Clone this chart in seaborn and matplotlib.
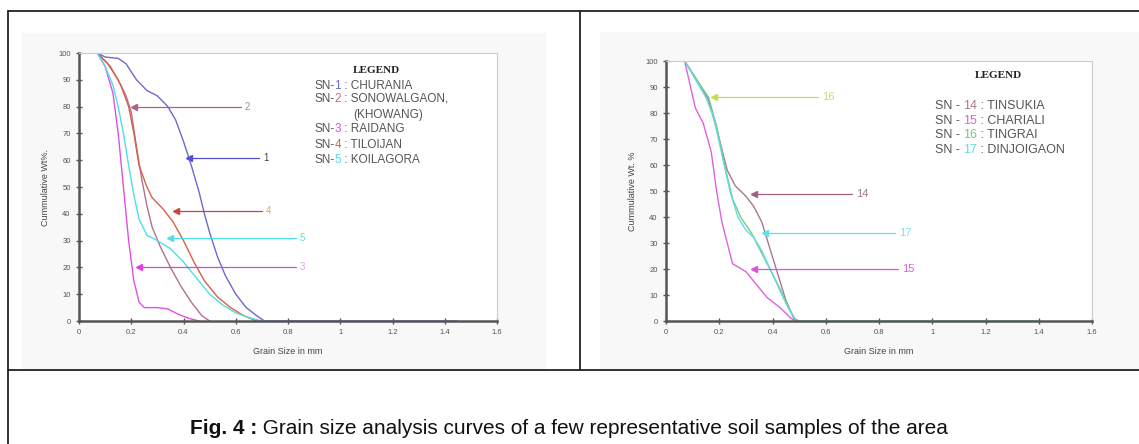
import matplotlib
matplotlib.use("Agg")
import matplotlib.pyplot as plt
from matplotlib.lines import Line2D
from matplotlib.patches import Rectangle
import seaborn as sns
import pandas as pd

sns.set_theme(style="white")
plt.rcParams['font.family'] = ['Liberation Sans', 'DejaVu Sans']

# ---- left panel: SN-1 .. SN-5 (grain size mm, cumulative wt %)
sn1_x = [0.07, 0.10, 0.15, 0.18, 0.22, 0.26, 0.30, 0.34, 0.37, 0.40, 0.43, 0.46, 0.48, 0.50, 0.53, 0.56, 0.60, 0.64, 0.68, 0.71, 1.45]
sn1_y = [100, 98.5, 98, 96, 90, 86, 84, 80, 75, 67, 58, 48, 40, 33, 24, 17, 10, 5, 2, 0, 0]
sn2_x = [0.07, 0.11, 0.15, 0.18, 0.20, 0.22, 0.24, 0.26, 0.28, 0.31, 0.35, 0.39, 0.43, 0.47, 0.50]
sn2_y = [100, 96, 90, 84, 78, 65, 53, 43, 35, 28, 20, 13, 7, 2, 0]
sn3_x = [0.07, 0.10, 0.13, 0.15, 0.17, 0.19, 0.21, 0.23, 0.25, 0.30, 0.34, 0.38, 0.42, 0.46]
sn3_y = [100, 95, 85, 70, 50, 30, 15, 7, 5, 5, 4.5, 2.5, 1, 0]
sn4_x = [0.07, 0.12, 0.16, 0.19, 0.21, 0.23, 0.26, 0.28, 0.32, 0.36, 0.40, 0.44, 0.48, 0.53, 0.58, 0.63, 0.68]
sn4_y = [100, 95, 88, 80, 70, 58, 50, 46, 42, 37, 30, 22, 15, 9, 5, 2, 0]
sn5_x = [0.07, 0.10, 0.13, 0.15, 0.17, 0.19, 0.21, 0.23, 0.26, 0.30, 0.35, 0.40, 0.45, 0.50, 0.55, 0.60, 0.66, 0.70]
sn5_y = [100, 95, 88, 80, 70, 58, 47, 38, 32, 30, 27, 22, 16, 10, 6, 3, 1, 0]

# ---- right panel: SN-14 .. SN-17
sn14_x = [0.07, 0.12, 0.16, 0.20, 0.23, 0.26, 0.30, 0.33, 0.36, 0.39, 0.42, 0.45, 0.48, 0.50]
sn14_y = [100, 92, 85, 70, 58, 52, 48, 44, 38, 28, 18, 8, 1, 0]
sn15_x = [0.07, 0.11, 0.14, 0.17, 0.19, 0.21, 0.25, 0.30, 0.34, 0.38, 0.43, 0.47, 0.49]
sn15_y = [100, 82, 76, 65, 50, 38, 22, 19, 14, 9, 5, 1, 0]
sn16_x = [0.07, 0.12, 0.16, 0.19, 0.22, 0.25, 0.28, 0.32, 0.35, 0.39, 0.43, 0.46, 0.49]
sn16_y = [100, 92, 86, 75, 60, 47, 40, 34, 28, 20, 12, 5, 0]
sn17_x = [0.07, 0.11, 0.15, 0.18, 0.21, 0.24, 0.27, 0.30, 0.33, 0.36, 0.40, 0.44, 0.47, 0.49, 1.40]
sn17_y = [100, 93, 86, 78, 64, 50, 40, 35, 32, 27, 18, 9, 3, 0, 0]

left_series = [("1", sn1_x, sn1_y), ("2", sn2_x, sn2_y), ("3", sn3_x, sn3_y),
               ("4", sn4_x, sn4_y), ("5", sn5_x, sn5_y)]
right_series = [("14", sn14_x, sn14_y), ("15", sn15_x, sn15_y),
                ("16", sn16_x, sn16_y), ("17", sn17_x, sn17_y)]
left_colors = {"1": "#6a6ad0", "2": "#b07090", "3": "#e050e0", "4": "#d86048", "5": "#50dde8"}
right_colors = {"14": "#a87890", "15": "#e060e0", "16": "#78c888", "17": "#60dde0"}

# pointer labels: (label, tip x, tail x, y, line colour, text colour)
left_pointers = [("2", 0.21, 0.62, 80, "#b06080", "#9a8aa0"),
                 ("1", 0.42, 0.69, 61, "#5050d0", "#404060"),
                 ("4", 0.37, 0.70, 41, "#d04040", "#f0a050"),
                 ("5", 0.35, 0.83, 31, "#50e0e8", "#50e0e8"),
                 ("3", 0.23, 0.83, 20, "#e040e0", "#d8a0e8")]
right_pointers = [("16", 0.18, 0.57, 86, "#c8dc50", "#d0d870"),
                  ("14", 0.33, 0.70, 49, "#a06080", "#a07890"),
                  ("17", 0.37, 0.86, 34, "#60e0e8", "#80e0f0"),
                  ("15", 0.33, 0.87, 20, "#e050e0", "#e060e0")]

left_legend = [("1", "CHURANIA"), ("2", "SONOWALGAON,"), ("3", "RAIDANG"),
               ("4", "TILOIJAN"), ("5", "KOILAGORA")]
right_legend = [("14", "TINSUKIA"), ("15", "CHARIALI"), ("16", "TINGRAI"), ("17", "DINJOIGAON")]

W, H = 1139, 444
fig = plt.figure(figsize=(W / 100, H / 100), dpi=100)


def fx(px):
    return px / W


def fy(py):
    return 1 - py / H


# table frame and chart-area backgrounds
fig.patches.append(Rectangle((fx(22), fy(370)), fx(545) - fx(22), fy(33) - fy(370),
                             transform=fig.transFigure, color="#f8f8f8", zorder=-5))
fig.patches.append(Rectangle((fx(600), fy(370)), fx(1139) - fx(600), fy(32) - fy(370),
                             transform=fig.transFigure, color="#f8f8f8", zorder=-5))
frame = dict(transform=fig.transFigure, color="#222222", lw=1.3)
fig.lines.append(Line2D([fx(7.5), fx(7.5)], [fy(11.5), 0], **frame))
fig.lines.append(Line2D([fx(7.5), 1], [fy(11.5), fy(11.5)], **frame))
fig.lines.append(Line2D([fx(580), fx(580)], [fy(11.5), fy(370)], **frame))
fig.lines.append(Line2D([fx(7.5), 1], [fy(370), fy(370)], **frame))


def build_frame(series):
    rows = []
    for name, xs, ys in series:
        for i, (x, y) in enumerate(zip(xs, ys)):
            rows.append({"sample": name, "order": i, "size": x, "wt": y})
    return pd.DataFrame(rows)


def style_axes(ax, ylabel):
    ax.set_facecolor("white")
    ax.set_xlim(0, 1.6)
    ax.set_ylim(0, 100)
    ax.set_xticks([0, 0.2, 0.4, 0.6, 0.8, 1.0, 1.2, 1.4, 1.6])
    ax.set_xticklabels(["0", "0.2", "0.4", "0.6", "0.8", "1", "1.2", "1.4", "1.6"])
    ax.set_yticks(range(0, 101, 10))
    ax.tick_params(axis="both", labelsize=5.5, colors="#555555", direction="inout",
                   length=4, width=1, pad=4, left=True, bottom=True)
    for side in ("left", "bottom"):
        ax.spines[side].set_color("#555555")
        ax.spines[side].set_linewidth(1.8)
    for side in ("top", "right"):
        ax.spines[side].set_color("#cccccc")
        ax.spines[side].set_linewidth(0.8)
    ax.set_xlabel("Grain Size in mm", fontsize=6.5, color="#444444", labelpad=8)
    ax.set_ylabel(ylabel, fontsize=6.5, color="#444444", labelpad=6)


def draw_pointers(ax, pointers, fs):
    for lab, x0, x1, y, lc, tc in pointers:
        ax.plot([x0, x1], [y, y], color=lc, lw=0.9, zorder=4)
        ax.plot([x0], [y], marker="<", ms=4, color=lc, zorder=5)
        ax.text(x1 + 0.015, y, lab, fontsize=fs, color=tc, va="center", ha="left")


def legend_row(ax, x, y, prefix, num, name, color, fs):
    t = ax.text(x, y, prefix, fontsize=fs, color="#555555", va="center", ha="left")
    n = ax.annotate(num, xycoords=t, xy=(1, 0.5), va="center", ha="left",
                    fontsize=fs, color=color)
    ax.annotate(" : " + name, xycoords=n, xy=(1, 0.5), va="center", ha="left",
                fontsize=fs, color="#555555")


# ---- left chart
ax1 = fig.add_axes([fx(79), fy(321), fx(497) - fx(79), fy(53) - fy(321)])
df_left = build_frame(left_series)
sns.lineplot(data=df_left, x="size", y="wt", hue="sample", units="sample", estimator=None,
             sort=False, palette=left_colors, lw=1.0, legend=False, ax=ax1)
style_axes(ax1, "Cummulative Wt%.")
draw_pointers(ax1, left_pointers, 7)

ax1.text(1.138, 93.5, "LEGEND", fontsize=8, fontweight="bold", family="Liberation Serif",
         ha="center", va="center", color="#222222")
leg_y = [87.75, 83, 71.6, 65.6, 60.25]
for (num, name), y in zip(left_legend, leg_y):
    legend_row(ax1, 0.90, y, "SN-", num, name, left_colors[num], 8.5)
ax1.text(1.05, 77, "(KHOWANG)", fontsize=8.5, color="#555555", va="center", ha="left")

# ---- right chart
ax2 = fig.add_axes([fx(666), fy(321), fx(1092) - fx(666), fy(61) - fy(321)])
df_right = build_frame(right_series)
sns.lineplot(data=df_right, x="size", y="wt", hue="sample", units="sample", estimator=None,
             sort=False, palette=right_colors, lw=1.0, legend=False, ax=ax2)
style_axes(ax2, "Cummulative Wt. %")
draw_pointers(ax2, right_pointers, 8)

ax2.text(1.25, 94.6, "LEGEND", fontsize=8, fontweight="bold", family="Liberation Serif",
         ha="center", va="center", color="#222222")
rleg_y = [82.7, 77, 71.5, 65.8]
for (num, name), y in zip(right_legend, rleg_y):
    legend_row(ax2, 1.01, y, "SN - ", num, name, right_colors[num], 9)

# ---- caption
cap = fig.text(fx(190), fy(428), "Fig. 4 :", fontsize=15, fontweight="bold",
               va="center", ha="left", color="#111111")
ax1.annotate(" Grain size analysis curves of a few representative soil samples of the area",
             xycoords=cap, xy=(1, 0.5), va="center", ha="left", fontsize=15, color="#111111",
             annotation_clip=False)

fig.savefig("out.png", dpi=100, facecolor="white")
